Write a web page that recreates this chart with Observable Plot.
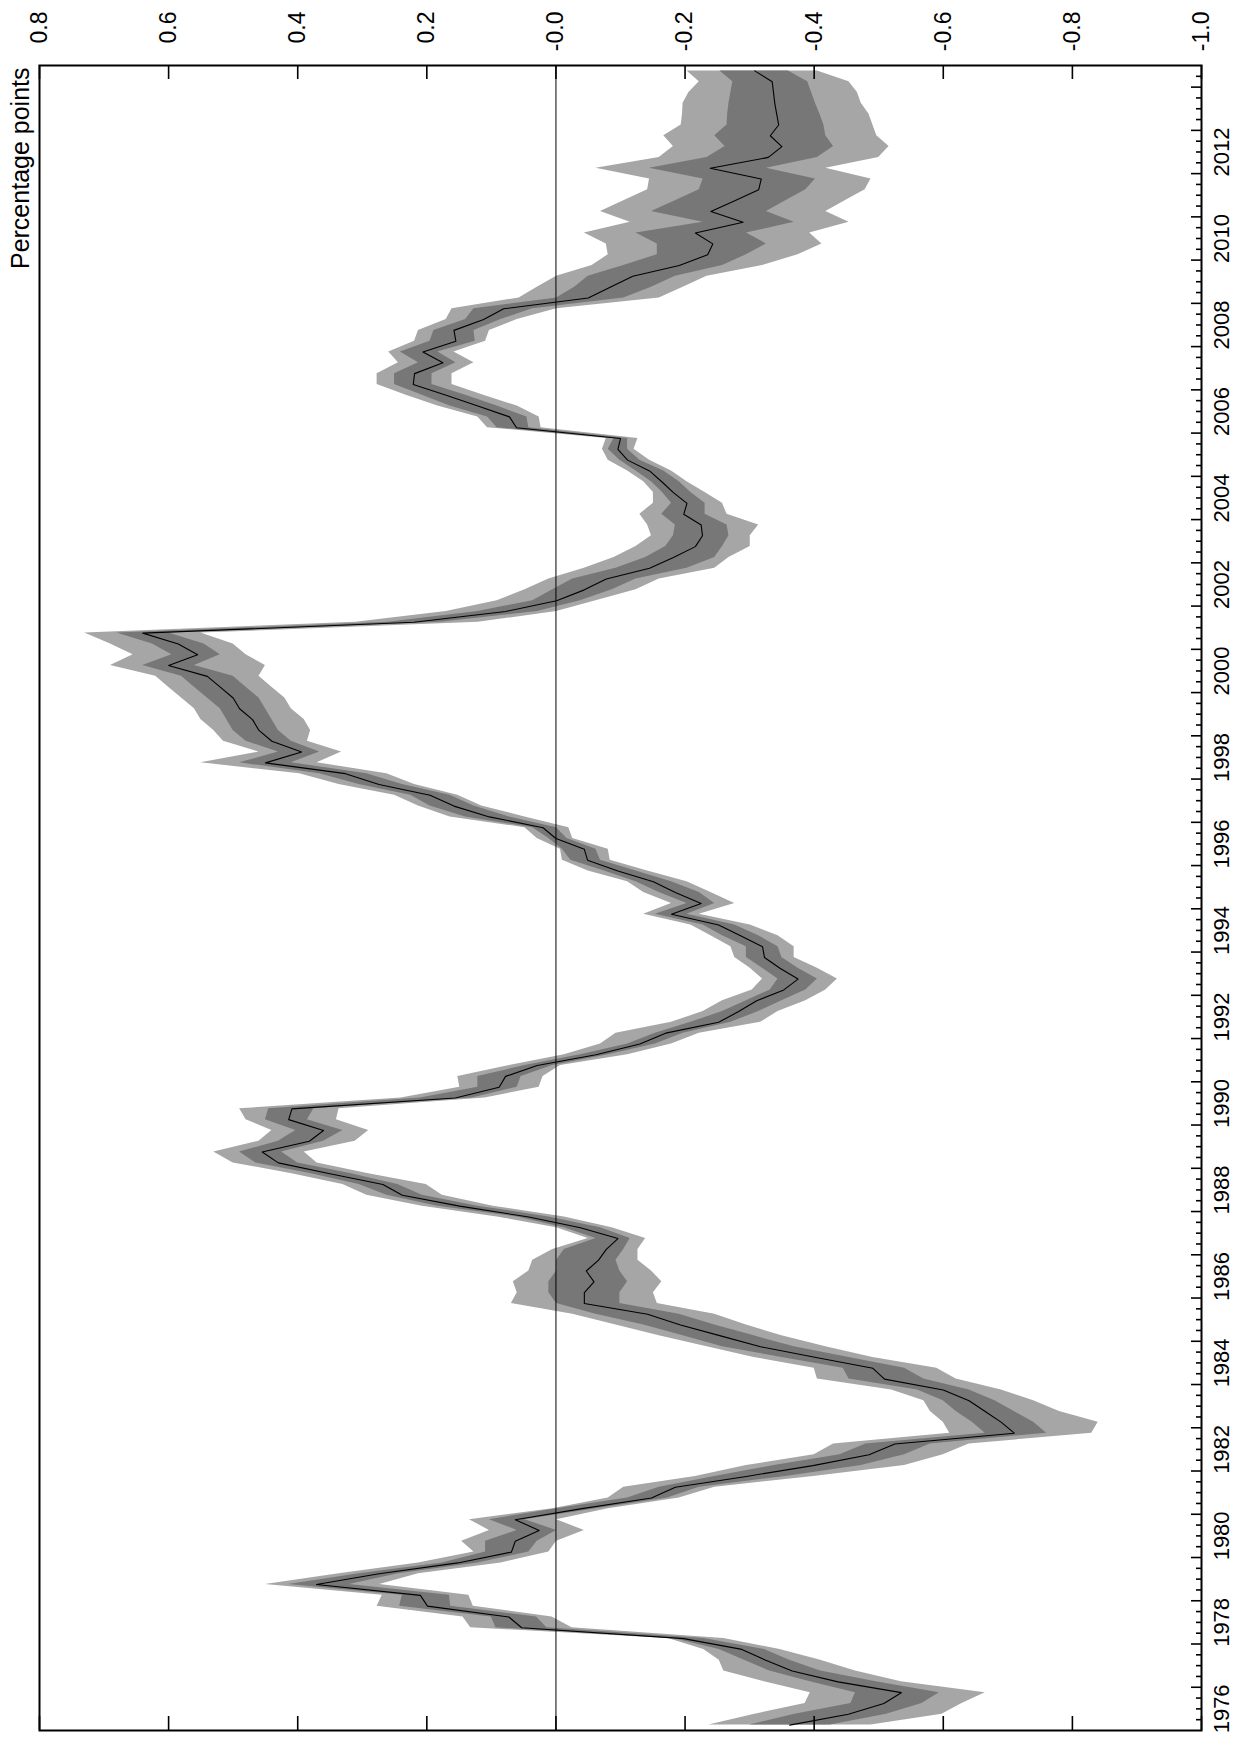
<!DOCTYPE html>
<html>
<head>
<meta charset="utf-8">
<script src="https://cdn.jsdelivr.net/npm/d3@7"></script>
<script src="https://cdn.jsdelivr.net/npm/@observablehq/plot@0.6"></script>
<style>
  html, body { margin: 0; padding: 0; background: #fff; }
  #chart svg { display: block; }
</style>
</head>
<body>
<div id="chart"></div>
<script>
// Quarterly observations, first one is 1976Q1, last one 2014Q2
const firstYear = 1976;
const quartersPerYear = 4;

const center = [
  -0.362, -0.453, -0.508, -0.535,
  -0.437, -0.366, -0.325, -0.288,
  -0.198, 0.053, 0.073, 0.199,
  0.210, 0.371, 0.274, 0.152,
  0.069, 0.063, 0.026, 0.063,
  -0.038, -0.148, -0.185, -0.295,
  -0.398, -0.485, -0.525, -0.710,
  -0.690, -0.665, -0.640, -0.600,
  -0.509, -0.491, -0.403, -0.317,
  -0.255, -0.193, -0.142, -0.044,
  -0.044, -0.059, -0.047, -0.066,
  -0.078, -0.096, -0.038, 0.042,
  0.149, 0.238, 0.268, 0.350,
  0.430, 0.455, 0.382, 0.360,
  0.414, 0.409, 0.156, 0.088,
  0.078, 0.029, -0.062, -0.130,
  -0.170, -0.252, -0.283, -0.311,
  -0.353, -0.375, -0.347, -0.323,
  -0.320, -0.286, -0.252, -0.179,
  -0.225, -0.185, -0.151, -0.096,
  -0.049, -0.044, 0.000, 0.020,
  0.103, 0.158, 0.195, 0.274,
  0.326, 0.450, 0.394, 0.440,
  0.460, 0.470, 0.490, 0.500,
  0.520, 0.540, 0.600, 0.555,
  0.585, 0.640, 0.220, 0.078,
  -0.001, -0.044, -0.078, -0.145,
  -0.182, -0.216, -0.227, -0.225,
  -0.198, -0.203, -0.182, -0.164,
  -0.145, -0.111, -0.096, -0.100,
  0.061, 0.072, 0.121, 0.170,
  0.221, 0.219, 0.175, 0.206,
  0.155, 0.158, 0.112, 0.081,
  -0.050, -0.084, -0.119, -0.191,
  -0.235, -0.243, -0.216, -0.290,
  -0.240, -0.277, -0.314, -0.318,
  -0.239, -0.329, -0.350, -0.332,
  -0.345, -0.342, -0.339, -0.337,
  -0.335, -0.308
];

const innerLow = [
  -0.425, -0.512, -0.567, -0.594,
  -0.496, -0.410, -0.362, -0.323,
  -0.229, 0.014, 0.030, 0.163,
  0.165, 0.320, 0.244, 0.121,
  0.042, 0.029, -0.001, 0.048,
  -0.062, -0.173, -0.222, -0.356,
  -0.473, -0.540, -0.580, -0.760,
  -0.740, -0.710, -0.680, -0.640,
  -0.570, -0.540, -0.454, -0.369,
  -0.307, -0.246, -0.191, -0.099,
  -0.099, -0.111, -0.099, -0.093,
  -0.105, -0.115, -0.069, 0.011,
  0.121, 0.207, 0.245, 0.317,
  0.400, 0.425, 0.360, 0.330,
  0.385, 0.375, 0.130, 0.060,
  0.054, 0.005, -0.081, -0.154,
  -0.197, -0.271, -0.314, -0.350,
  -0.387, -0.405, -0.375, -0.350,
  -0.344, -0.314, -0.277, -0.203,
  -0.246, -0.222, -0.179, -0.124,
  -0.069, -0.062, -0.017, -0.001,
  0.072, 0.127, 0.164, 0.238,
  0.293, 0.410, 0.366, 0.410,
  0.430, 0.440, 0.450, 0.460,
  0.480, 0.500, 0.560, 0.520,
  0.545, 0.600, 0.180, 0.029,
  -0.038, -0.087, -0.124, -0.203,
  -0.246, -0.258, -0.268, -0.265,
  -0.231, -0.231, -0.209, -0.191,
  -0.167, -0.130, -0.111, -0.111,
  0.042, 0.045, 0.091, 0.140,
  0.192, 0.192, 0.155, 0.183,
  0.125, 0.127, 0.085, 0.036,
  -0.105, -0.148, -0.185, -0.258,
  -0.295, -0.326, -0.295, -0.369,
  -0.326, -0.356, -0.387, -0.402,
  -0.326, -0.405, -0.430, -0.418,
  -0.415, -0.409, -0.402, -0.396,
  -0.390, -0.360
];

const innerHigh = [
  -0.300, -0.370, -0.457, -0.464,
  -0.394, -0.331, -0.292, -0.253,
  -0.182, 0.093, 0.100, 0.242,
  0.238, 0.414, 0.305, 0.176,
  0.109, 0.109, 0.060, 0.103,
  -0.001, -0.111, -0.160, -0.246,
  -0.338, -0.440, -0.480, -0.665,
  -0.645, -0.620, -0.600, -0.560,
  -0.454, -0.445, -0.350, -0.258,
  -0.197, -0.136, -0.062, -0.001,
  0.011, 0.011, -0.001, -0.001,
  -0.013, -0.062, -0.013, 0.060,
  0.183, 0.262, 0.305, 0.379,
  0.465, 0.490, 0.430, 0.403,
  0.450, 0.445, 0.210, 0.121,
  0.121, 0.048, -0.038, -0.111,
  -0.154, -0.209, -0.258, -0.295,
  -0.332, -0.344, -0.320, -0.295,
  -0.295, -0.258, -0.228, -0.154,
  -0.203, -0.160, -0.124, -0.075,
  -0.023, -0.010, 0.011, 0.036,
  0.140, 0.195, 0.225, 0.305,
  0.366, 0.490, 0.430, 0.480,
  0.500, 0.510, 0.520, 0.540,
  0.560, 0.580, 0.640, 0.595,
  0.625, 0.680, 0.260, 0.121,
  0.036, 0.005, -0.026, -0.093,
  -0.139, -0.170, -0.182, -0.185,
  -0.164, -0.179, -0.165, -0.148,
  -0.124, -0.099, -0.081, -0.090,
  0.091, 0.106, 0.164, 0.207,
  0.250, 0.250, 0.213, 0.241,
  0.195, 0.189, 0.140, 0.127,
  -0.001, -0.029, -0.050, -0.105,
  -0.157, -0.157, -0.124, -0.228,
  -0.148, -0.185, -0.222, -0.228,
  -0.145, -0.234, -0.262, -0.246,
  -0.265, -0.266, -0.268, -0.271,
  -0.274, -0.254
];

const outerLow = [
  -0.488, -0.598, -0.629, -0.665,
  -0.535, -0.464, -0.410, -0.347,
  -0.260, -0.025, 0.006, 0.128,
  0.135, 0.273, 0.213, 0.085,
  0.011, -0.001, -0.044, -0.001,
  -0.081, -0.191, -0.246, -0.399,
  -0.540, -0.600, -0.640, -0.830,
  -0.840, -0.780, -0.740, -0.690,
  -0.620, -0.590, -0.491, -0.418,
  -0.350, -0.295, -0.246, -0.157,
  -0.151, -0.164, -0.148, -0.127,
  -0.127, -0.139, -0.087, -0.013,
  0.097, 0.176, 0.201, 0.290,
  0.370, 0.390, 0.311, 0.290,
  0.340, 0.336, 0.110, 0.026,
  0.020, -0.007, -0.111, -0.179,
  -0.222, -0.317, -0.344, -0.387,
  -0.418, -0.436, -0.405, -0.369,
  -0.369, -0.344, -0.301, -0.222,
  -0.277, -0.240, -0.203, -0.142,
  -0.084, -0.081, -0.026, -0.020,
  0.048, 0.115, 0.152, 0.219,
  0.262, 0.370, 0.332, 0.385,
  0.380, 0.390, 0.410, 0.420,
  0.440, 0.460, 0.450, 0.480,
  0.500, 0.550, 0.120, -0.001,
  -0.062, -0.124, -0.160, -0.246,
  -0.268, -0.301, -0.301, -0.314,
  -0.265, -0.258, -0.231, -0.203,
  -0.179, -0.145, -0.121, -0.127,
  0.023, 0.026, 0.060, 0.112,
  0.161, 0.161, 0.127, 0.158,
  0.109, 0.103, 0.060, -0.001,
  -0.160, -0.197, -0.234, -0.320,
  -0.375, -0.412, -0.393, -0.454,
  -0.418, -0.448, -0.479, -0.488,
  -0.418, -0.500, -0.516, -0.497,
  -0.491, -0.485, -0.473, -0.467,
  -0.454, -0.405
];

const outerHigh = [
  -0.237, -0.308, -0.386, -0.394,
  -0.323, -0.260, -0.253, -0.229,
  -0.174, 0.132, 0.144, 0.277,
  0.269, 0.450, 0.336, 0.213,
  0.127, 0.146, 0.103, 0.134,
  0.005, -0.081, -0.105, -0.216,
  -0.295, -0.400, -0.430, -0.610,
  -0.600, -0.580, -0.570, -0.520,
  -0.405, -0.400, -0.307, -0.234,
  -0.160, -0.093, -0.026, 0.069,
  0.060, 0.066, 0.042, 0.036,
  0.005, -0.050, -0.001, 0.091,
  0.207, 0.293, 0.330, 0.409,
  0.500, 0.530, 0.460, 0.440,
  0.480, 0.490, 0.240, 0.149,
  0.152, 0.072, -0.013, -0.069,
  -0.093, -0.179, -0.228, -0.258,
  -0.304, -0.320, -0.301, -0.277,
  -0.271, -0.240, -0.209, -0.136,
  -0.179, -0.136, -0.111, -0.050,
  -0.010, -0.007, 0.029, 0.048,
  0.164, 0.213, 0.250, 0.336,
  0.397, 0.550, 0.460, 0.515,
  0.530, 0.550, 0.560, 0.580,
  0.600, 0.620, 0.690, 0.655,
  0.690, 0.730, 0.310, 0.170,
  0.091, 0.048, 0.011, -0.044,
  -0.090, -0.124, -0.148, -0.142,
  -0.130, -0.151, -0.151, -0.136,
  -0.111, -0.081, -0.072, -0.078,
  0.106, 0.121, 0.183, 0.232,
  0.277, 0.277, 0.244, 0.259,
  0.219, 0.213, 0.170, 0.161,
  0.057, 0.029, -0.001, -0.056,
  -0.081, -0.078, -0.044, -0.115,
  -0.069, -0.105, -0.142, -0.145,
  -0.062, -0.160, -0.182, -0.167,
  -0.194, -0.196, -0.197, -0.206,
  -0.222, -0.203
];

// Axis ticks and labels
const valueTicks = [0.8, 0.6, 0.4, 0.2, 0.0, -0.2, -0.4, -0.6, -0.8, -1.0];
const valueTickLabels = ["0.8", "0.6", "0.4", "0.2", "-0.0", "-0.2", "-0.4", "-0.6", "-0.8", "-1.0"];
const yearLabels = [1976, 1978, 1980, 1982, 1984, 1986, 1988, 1990, 1992, 1994, 1996, 1998, 2000, 2002, 2004, 2006, 2008, 2010, 2012];
const axisTitle = "Percentage points";

// Build table (each quarter is drawn in the middle of its slot)
const data = center.map((c, i) => ({
  t: firstYear + (i + 0.5) / quartersPerYear,
  c,
  dLo: innerLow[i], dHi: innerHigh[i],
  lLo: outerLow[i], lHi: outerHigh[i]
}));
const tStart = firstYear;
const tEnd = firstYear + center.length / quartersPerYear;

// Year tick positions (slot boundaries)
const yearBoundaries = d3.range(firstYear + 1, Math.floor(tEnd) + 1);
const quarterBoundaries = [];
for (let y = firstYear; y < tEnd; y++) {
  for (let q = 1; q < quartersPerYear; q++) {
    const v = y + q / quartersPerYear;
    if (v < tEnd) quarterBoundaries.push(v);
  }
}

const W = 1236, H = 1744;
const mT = 65, mB = 14, mL = 39, mR = 35;
const frameW = W - mL - mR, frameH = H - mT - mB;
const FONT = "'Liberation Sans', Arial, Helvetica, sans-serif";

const chart = Plot.plot({
  width: W,
  height: H,
  marginTop: mT,
  marginBottom: mB,
  marginLeft: mL,
  marginRight: mR,
  style: { fontFamily: FONT, background: "#ffffff", color: "#000000", overflow: "visible" },
  x: { domain: [0.8, -1.0] },
  y: { domain: [tStart, tEnd] },
  marks: [
    Plot.areaX(data, { y: "t", x1: "lLo", x2: "lHi", fill: "#a6a6a6", curve: "linear" }),
    Plot.areaX(data, { y: "t", x1: "dLo", x2: "dHi", fill: "#777777", curve: "linear" }),
    Plot.ruleX([0], { stroke: "#000000", strokeWidth: 1 }),
    Plot.line(data, { x: "c", y: "t", stroke: "#000000", strokeWidth: 1.1, curve: "linear" }),
    // value ticks, inward from top and bottom
    Plot.tickX(valueTicks, { x: d => d, insetBottom: frameH - 14, stroke: "#000000", strokeWidth: 1.6 }),
    Plot.tickX(valueTicks, { x: d => d, insetTop: frameH - 14, stroke: "#000000", strokeWidth: 1.6 }),
    // time ticks on the right edge, inward
    Plot.tickY(yearBoundaries, { y: d => d, insetLeft: frameW - 10, stroke: "#000000", strokeWidth: 1.6 }),
    Plot.tickY(quarterBoundaries, { y: d => d, insetLeft: frameW - 5, stroke: "#000000", strokeWidth: 1.6 }),
    Plot.frame({ stroke: "#000000", strokeWidth: 2 }),
    Plot.axisX(valueTicks, {
      anchor: "top", tickSize: 0, tickPadding: 54, tickRotate: -90,
      textAnchor: "end", lineAnchor: "middle", fontSize: 23, label: null,
      tickFormat: d => valueTickLabels[valueTicks.indexOf(d)]
    }),
    Plot.axisY(yearLabels.map(y => y + 0.5), {
      anchor: "right", tickSize: 0, tickPadding: 12, tickRotate: -90,
      textAnchor: "middle", lineAnchor: "top", fontSize: 22, label: null,
      tickFormat: d => String(Math.floor(d))
    }),
    Plot.text([axisTitle], {
      text: d => d, frameAnchor: "top-left", rotate: -90,
      textAnchor: "end", lineAnchor: "bottom", dx: -11, dy: 2, fontSize: 25, fill: "#000000"
    })
  ]
});

document.getElementById("chart").appendChild(chart);
</script>
</body>
</html>
